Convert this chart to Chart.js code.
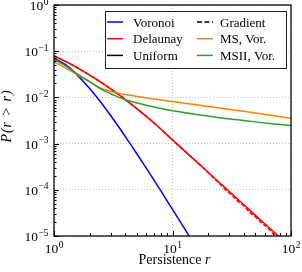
<!DOCTYPE html>
<html lang="en">
<head>
<meta charset="UTF-8">
<title>Persistence distribution</title>
<script src="https://cdn.jsdelivr.net/npm/chart.js"></script>
<style>
  html, body { margin: 0; padding: 0; background: #fff; }
  canvas { display: block; }
</style>
</head>
<body>
<canvas id="chart" width="302" height="272"></canvas>
<script>
// tail distributions P(r' > r)
const rVoronoi = [1, 1.25, 1.5, 2, 2.5, 3.2, 4, 5, 6.3, 8, 10, 12, 14];
const pVoronoi = [0.0708, 0.0511, 0.0344, 0.0156, 0.00766, 0.00324, 0.00142, 0.000604, 0.000244, 0.0000933, 0.0000377, 0.0000179, 0.00000946];

const rDelaunay = [1, 1.25, 1.5, 2, 2.5, 3.2, 4, 5, 6.3, 8, 10, 13.6, 16, 20, 25, 40, 63, 80, 85];
const pDelaunay = [0.0794, 0.06, 0.0468, 0.0304, 0.0211, 0.0137, 0.00897, 0.00573, 0.00351, 0.00205, 0.0012, 0.000586, 0.000403, 0.00024, 0.000142, 0.0000475, 0.0000165, 0.00000946, 0.00000822];

const rGradient = [1, 1.25, 1.5, 2, 2.5, 3.2, 4, 5, 6.3, 8, 10, 13.6, 16, 20, 22, 25, 28, 32, 36, 40, 45, 50, 56, 63, 70, 75, 80];
const pGradient = [0.0794, 0.06, 0.0468, 0.0304, 0.0211, 0.0137, 0.00897, 0.00573, 0.00351, 0.00205, 0.0012, 0.000586, 0.000403, 0.000234, 0.000186, 0.000135, 0.0001, 0.0000741, 0.000055, 0.0000447, 0.0000324, 0.0000263, 0.0000195, 0.0000155, 0.0000115, 0.0000102, 0.0000085];

const rMS = [1, 1.25, 1.5, 2, 2.5, 3.2, 4, 5, 6.3, 8, 10, 16, 25, 40, 63, 100];
const pMS = [0.0589, 0.0432, 0.0331, 0.0216, 0.0158, 0.0129, 0.0115, 0.0105, 0.00955, 0.00881, 0.00813, 0.00692, 0.00589, 0.00501, 0.00422, 0.00355];
const pMSII = [0.0661, 0.0479, 0.0347, 0.0219, 0.0151, 0.0112, 0.00891, 0.00759, 0.00661, 0.00575, 0.00513, 0.00427, 0.00363, 0.00316, 0.00275, 0.00245];

const xDecades = [1, 10, 100];
const yDecades = [1, 0.1, 0.01, 0.001, 0.0001, 0.00001];

// legend is a style key, not one entry per drawn line
const legendLabels = ['Voronoi', 'Delaunay', 'Uniform', 'Gradient', 'MS, Vor.', 'MSII, Vor.'];
const legendColors = ['#0000ff', '#ff0000', '#000000', '#000000', '#ff7f0e', '#2ca02c'];
const legendDashed = [false, false, false, true, false, false];

const serif = '"Liberation Serif", "DejaVu Serif", serif';

function pts(rs, ps) {
    return rs.map((r, i) => ({ x: r, y: ps[i] }));
}

function line(data, color, order, dash) {
    return {
        data: data,
        borderColor: color,
        borderWidth: 1.5,
        borderDash: dash || [],
        pointRadius: 0,
        tension: 0.35,
        clip: 0,
        order: order
    };
}

function supLabel(ctx, base, exp, x, y, align) {
    ctx.font = '13.5px ' + serif;
    const wb = ctx.measureText(base).width;
    ctx.font = '9.5px ' + serif;
    const we = ctx.measureText(exp).width;
    let left = align === 'right' ? x - wb - we - 0.5 : x - (wb + we + 0.5) / 2;
    ctx.font = '13.5px ' + serif;
    ctx.fillText(base, left, y);
    ctx.font = '9.5px ' + serif;
    ctx.fillText(exp, left + wb + 0.5, y - 5.5);
}

const decorations = {
    id: 'decorations',
    afterDraw(chart) {
        const { ctx, chartArea: a, scales: { x, y } } = chart;
        ctx.save();
        ctx.strokeStyle = '#000';
        ctx.lineWidth = 1;

        // inward ticks, left and bottom only
        ctx.beginPath();
        for (let d = 0; d < yDecades.length; d++) {
            const py = Math.round(y.getPixelForValue(yDecades[d])) + 0.5;
            ctx.moveTo(a.left, py); ctx.lineTo(a.left + 5, py);
            if (d > 0) {
                for (let m = 2; m <= 9; m++) {
                    const my = Math.round(y.getPixelForValue(yDecades[d] * m)) + 0.5;
                    ctx.moveTo(a.left, my); ctx.lineTo(a.left + 2.5, my);
                }
            }
        }
        for (let d = 0; d < xDecades.length; d++) {
            const px = Math.round(x.getPixelForValue(xDecades[d])) + 0.5;
            ctx.moveTo(px, a.bottom); ctx.lineTo(px, a.bottom - 5);
            if (d < xDecades.length - 1) {
                for (let m = 2; m <= 9; m++) {
                    const mx = Math.round(x.getPixelForValue(xDecades[d] * m)) + 0.5;
                    ctx.moveTo(mx, a.bottom); ctx.lineTo(mx, a.bottom - 3);
                }
            }
        }
        ctx.stroke();

        // frame
        ctx.lineWidth = 1.25;
        ctx.strokeRect(a.left, a.top, a.right - a.left, a.bottom - a.top);

        // tick labels
        ctx.fillStyle = '#000';
        ctx.textBaseline = 'alphabetic';
        ctx.textAlign = 'left';
        yDecades.forEach((v) => {
            const e = Math.round(Math.log10(v));
            const exp = e === 0 ? '0' : '\u2212' + (-e);
            supLabel(ctx, '10', exp, a.left - 5.5, y.getPixelForValue(v) + 5, 'right');
        });
        xDecades.forEach((v) => {
            const e = Math.round(Math.log10(v));
            supLabel(ctx, '10', String(e), x.getPixelForValue(v), a.bottom + 17, 'center');
        });

        // axis titles
        ctx.font = '14px ' + serif;
        const t1 = 'Persistence ';
        const w1 = ctx.measureText(t1).width;
        ctx.font = 'italic 14px ' + serif;
        const w2 = ctx.measureText('r').width;
        const cx = (a.left + a.right) / 2 + 2;
        ctx.textAlign = 'left';
        ctx.font = '14px ' + serif;
        ctx.fillText(t1, cx - (w1 + w2) / 2, 263.5);
        ctx.font = 'italic 14px ' + serif;
        ctx.fillText('r', cx - (w1 + w2) / 2 + w1, 263.5);

        ctx.save();
        ctx.translate(11, 116);
        ctx.rotate(-Math.PI / 2);
        ctx.textAlign = 'center';
        ctx.font = 'italic 14px ' + serif;
        ctx.letterSpacing = '1px';
        ctx.fillText('P(r > r)', 0, 0);
        ctx.restore();

        // legend
        const lx = 105.5, ly = 11.5, lw = 181, lh = 57;
        ctx.fillStyle = '#fff';
        ctx.fillRect(lx, ly, lw, lh);
        ctx.strokeStyle = '#222';
        ctx.lineWidth = 1;
        ctx.strokeRect(lx, ly, lw, lh);
        ctx.font = '13px ' + serif;
        ctx.textAlign = 'left';
        legendLabels.forEach((label, i) => {
            const col = Math.floor(i / 3), row = i % 3;
            const x0 = col === 0 ? 107 : 197;
            const rowY = 22 + row * 16.7;
            ctx.beginPath();
            ctx.strokeStyle = legendColors[i];
            ctx.lineWidth = 1.5;
            ctx.setLineDash(legendDashed[i] ? [5, 2.5] : []);
            ctx.moveTo(x0, rowY); ctx.lineTo(x0 + 16, rowY);
            ctx.stroke();
            ctx.setLineDash([]);
            ctx.fillStyle = '#000';
            ctx.fillText(label, col === 0 ? 133 : 220, rowY + 4.5);
        });
        ctx.restore();
    }
};

new Chart(document.getElementById('chart').getContext('2d'), {
    type: 'line',
    data: {
        datasets: [
            line(pts(rVoronoi, pVoronoi), '#0000ff', -1),
            line(pts(rDelaunay, pDelaunay), '#ff0000', -2),
            line(pts(rGradient, pGradient), '#ff0000', -3, [4, 2]),
            line(pts(rMS, pMS), '#ff7f0e', -4),
            line(pts(rMS, pMSII), '#2ca02c', -5)
        ]
    },
    options: {
        responsive: false,
        animation: false,
        layout: { padding: { left: 0, right: 11, top: 5, bottom: 0 } },
        plugins: { legend: { display: false }, tooltip: { enabled: false } },
        scales: {
            x: {
                type: 'logarithmic',
                min: 1,
                max: 100,
                afterBuildTicks: (s) => { s.ticks = xDecades.map(v => ({ value: v })); },
                afterFit: (s) => { s.height = 36; },
                ticks: { display: false },
                grid: { color: '#b0b0b0', lineWidth: 0.8, drawTicks: false },
                border: { display: false, dash: [1, 2] }
            },
            y: {
                type: 'logarithmic',
                min: 0.00001,
                max: 1,
                afterBuildTicks: (s) => { s.ticks = yDecades.map(v => ({ value: v })); },
                afterFit: (s) => { s.width = 54; },
                ticks: { display: false },
                grid: { color: '#b0b0b0', lineWidth: 0.8, drawTicks: false },
                border: { display: false, dash: [1, 2] }
            }
        }
    },
    plugins: [decorations]
});
</script>
</body>
</html>
